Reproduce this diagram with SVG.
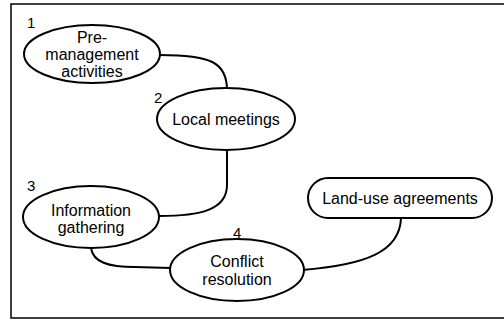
<svg xmlns="http://www.w3.org/2000/svg" width="504" height="321" viewBox="0 0 504 321">
<style>
.shape{fill:#fff;stroke:#000;stroke-width:2}
.conn{fill:none;stroke:#000;stroke-width:2}
.frame{fill:none;stroke:#000;stroke-width:1.5}
text{font-family:"Liberation Sans",Arial,sans-serif;font-size:16px;fill:#000}
.lbl{text-anchor:middle}
.num{font-size:15px}
</style>
<rect width="504" height="321" fill="#fff"/>
<path class="frame" d="M504,4 L11,4 L11,318 L504,318"/>
<g id="connectors">
<path class="conn" d="M160,55 C210,55 227,62 227,90"/>
<path class="conn" d="M227,150 L227,185 C227,210 200,216 159,216"/>
<path class="conn" d="M91,248 C93,262 108,267 135,267 L171,268"/>
<path class="conn" d="M302,270 C365,265 400,252 401,218"/>
</g>
<g id="n1">
<ellipse class="shape" cx="92" cy="54" rx="68" ry="29"/>
<text class="num" x="27" y="28">1</text>
<text class="lbl" x="92" y="43">Pre-</text>
<text class="lbl" x="92" y="60">management</text>
<text class="lbl" x="92" y="77">activities</text>
</g>
<g id="n2">
<ellipse class="shape" cx="226" cy="119" rx="69" ry="31"/>
<text class="num" x="154" y="103">2</text>
<text class="lbl" x="226" y="125">Local meetings</text>
</g>
<g id="n3">
<ellipse class="shape" cx="91" cy="217" rx="68" ry="31"/>
<text class="num" x="27" y="191">3</text>
<text class="lbl" x="91" y="216">Information</text>
<text class="lbl" x="91" y="233">gathering</text>
</g>
<g id="n4">
<ellipse class="shape" cx="237" cy="270" rx="67" ry="31"/>
<text class="num" x="233" y="238">4</text>
<text class="lbl" x="237" y="267">Conflict</text>
<text class="lbl" x="237" y="285">resolution</text>
</g>
<g id="n5">
<rect class="shape" x="308" y="178" width="184" height="40" rx="20"/>
<text class="lbl" x="400" y="204">Land-use agreements</text>
</g>
</svg>
